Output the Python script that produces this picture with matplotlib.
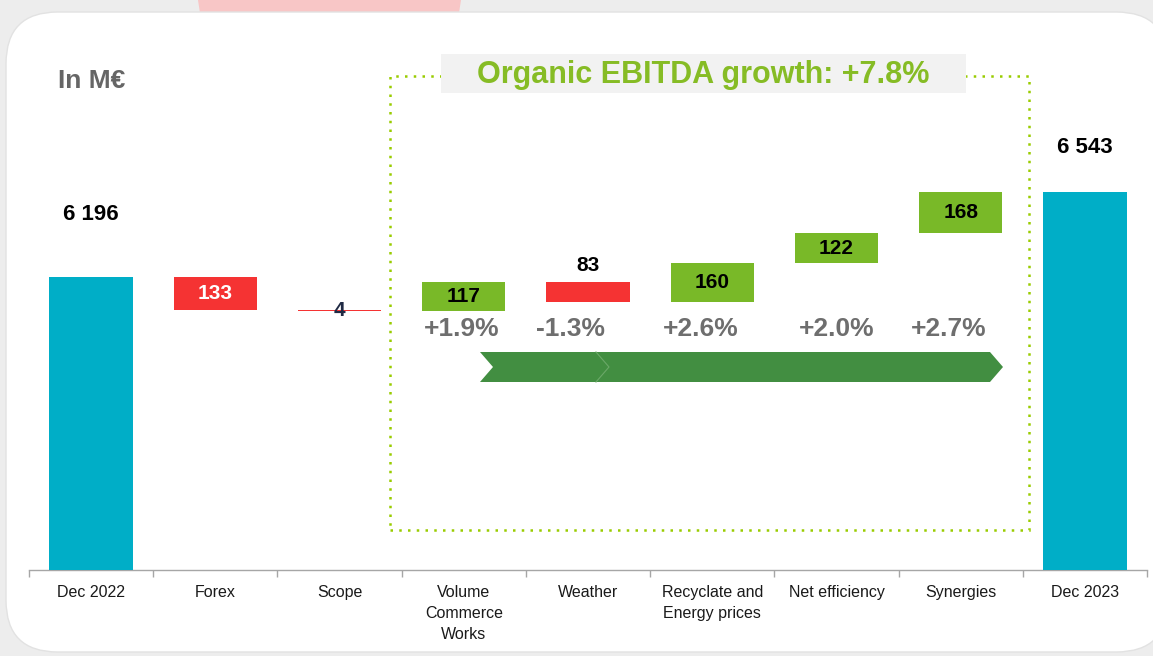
import matplotlib.pyplot as plt
from matplotlib.patches import FancyBboxPatch, Rectangle, Polygon

categories = ["Dec 2022", "Forex", "Scope", "Volume\nCommerce\nWorks", "Weather",
              "Recyclate and\nEnergy prices", "Net efficiency", "Synergies", "Dec 2023"]
start_value = 6196
end_value = 6543
deltas = [-133, -4, 117, -83, 160, 122, 168]
organic_pct = ["+1.9%", "-1.3%", "+2.6%", "+2.0%", "+2.7%"]
organic_growth = "+7.8%"

TEAL = "#00AEC7"
RED = "#F53333"
GREEN = "#79B928"
DARK_GREEN = "#428E41"
LIME = "#99CC00"

W, H = 1153, 656
fig = plt.figure(figsize=(W / 100, H / 100), dpi=100)
fig.patch.set_facecolor("#EDEDED")


def px(x, y):
    """ pixel position (from top-left) -> figure fraction """
    return x / W, 1 - y / H


# slide background: pink tab on top, white rounded card
fig.add_artist(Polygon([px(198, 0), px(461, 0), px(459, 13), px(200, 13)],
                       closed=True, transform=fig.transFigure,
                       facecolor="#F8C6C6", edgecolor="none", zorder=-2))
x0, y0 = px(6, 652)
x1, y1 = px(1168, 12)
fig.add_artist(FancyBboxPatch((x0, y0), x1 - x0, y1 - y0,
                              boxstyle="round,pad=0,rounding_size=0.045",
                              mutation_aspect=W / H,
                              transform=fig.transFigure, facecolor="white",
                              edgecolor="#E2E2E2", linewidth=1.0, zorder=-1))

# axes: baseline at y=570px, 0.245 px per M€
left, bottom = px(29, 570)
ax = fig.add_axes([left, bottom, (1147 - 29) / W, 530 / H])
ax.set_facecolor("none")
ax.set_xlim(-0.5, len(categories) - 0.5)
ax.set_ylim(5000, 5000 + 530 / 0.245)

# waterfall
bar_w = 0.67
ax.bar(0, start_value - 5000, bottom=5000, width=bar_w, color=TEAL, zorder=3)
ax.bar(len(categories) - 1, end_value - 5000, bottom=5000, width=bar_w, color=TEAL, zorder=3)

level = start_value
tops = []
for i, d in enumerate(deltas, start=1):
    lo = min(level, level + d)
    ax.bar(i, abs(d), bottom=lo, width=bar_w, color=GREEN if d > 0 else RED, zorder=3)
    tops.append((lo, lo + abs(d)))
    level += d

num_font = dict(family="Liberation Sans", fontweight="bold")

ax.annotate("6 196", (0, start_value), xytext=(0, 45), textcoords="offset points",
            ha="center", va="center", fontsize=16, color="black", **num_font)
ax.annotate("6 543", (len(categories) - 1, end_value), xytext=(0, 32),
            textcoords="offset points", ha="center", va="center", fontsize=16,
            color="black", **num_font)

for i, (d, (lo, hi)) in enumerate(zip(deltas, tops), start=1):
    txt = str(abs(d))
    if i == 1:
        ax.text(i, (lo + hi) / 2, txt, ha="center", va="center", fontsize=15,
                color="white", zorder=5, **num_font)
    elif i == 2:
        ax.text(i, (lo + hi) / 2, txt, ha="center", va="center", fontsize=15,
                color="#1F2A44", zorder=5, **num_font)
    elif i == 4:
        ax.annotate(txt, (i, hi), xytext=(0, 12), textcoords="offset points",
                    ha="center", va="center", fontsize=15, color="black", **num_font)
    else:
        ax.text(i, (lo + hi) / 2, txt, ha="center", va="center", fontsize=15,
                color="black", zorder=5, **num_font)

# organic growth percentages
pct_shift = [-0.02, -0.14, -0.09, 0.0, -0.1]
pct_y = 5000 + (570 - 329) / 0.245
for k, (lab, s) in enumerate(zip(organic_pct, pct_shift)):
    ax.text(3 + k + s, pct_y, lab, ha="center", va="center", fontsize=19,
            fontweight="bold", color="#6E6E6E", family="Liberation Sans", zorder=5)

# axis styling
for sp in ["top", "right", "left"]:
    ax.spines[sp].set_visible(False)
ax.spines["bottom"].set_color("#A6A6A6")
ax.spines["bottom"].set_linewidth(1.0)
ax.set_yticks([])
ax.set_xticks(range(len(categories)))
ax.set_xticklabels(categories, fontsize=11.5, family="Liberation Sans", color="#1A1A1A",
                   linespacing=1.5, va="top")
ax.tick_params(axis="x", which="major", length=0, pad=11)
ax.set_xticks([i - 0.5 for i in range(len(categories) + 1)], minor=True)
ax.tick_params(axis="x", which="minor", length=5, color="#A6A6A6", width=1.0)

# dotted organic box + title tab
bx0, by0 = px(390, 530)
bx1, by1 = px(1029, 76)
fig.add_artist(Rectangle((bx0, by0), bx1 - bx0, by1 - by0, transform=fig.transFigure,
                         fill=False, edgecolor=LIME, linewidth=1.8,
                         linestyle=(0, (1, 2.5)), zorder=2))
tx0, ty0 = px(441, 93)
tx1, ty1 = px(966, 54)
fig.add_artist(Rectangle((tx0, ty0), tx1 - tx0, ty1 - ty0, transform=fig.transFigure,
                         facecolor="#F2F2F2", edgecolor="none", zorder=3))
fig.text(*px(703, 75), f"Organic EBITDA growth: {organic_growth}", ha="center",
         va="center", fontsize=22, fontweight="bold", color="#86BC25",
         family="Liberation Sans", zorder=4)

# chevron arrow
arrow = [px(480, 352), px(990, 352), px(1003, 367), px(990, 382), px(480, 382), px(493, 367)]
fig.add_artist(Polygon(arrow, closed=True, transform=fig.transFigure,
                       facecolor=DARK_GREEN, edgecolor="none", zorder=3))
fig.add_artist(plt.Line2D(*zip(px(596, 352), px(609, 367), px(596, 382)),
                          transform=fig.transFigure, color="#6BA868", linewidth=0.8,
                          zorder=4))

fig.text(*px(58, 81), "In M€", ha="left", va="center", fontsize=19, fontweight="bold",
         color="#666666", family="Liberation Sans")

fig.savefig("out.png", dpi=100, facecolor=fig.get_facecolor())
